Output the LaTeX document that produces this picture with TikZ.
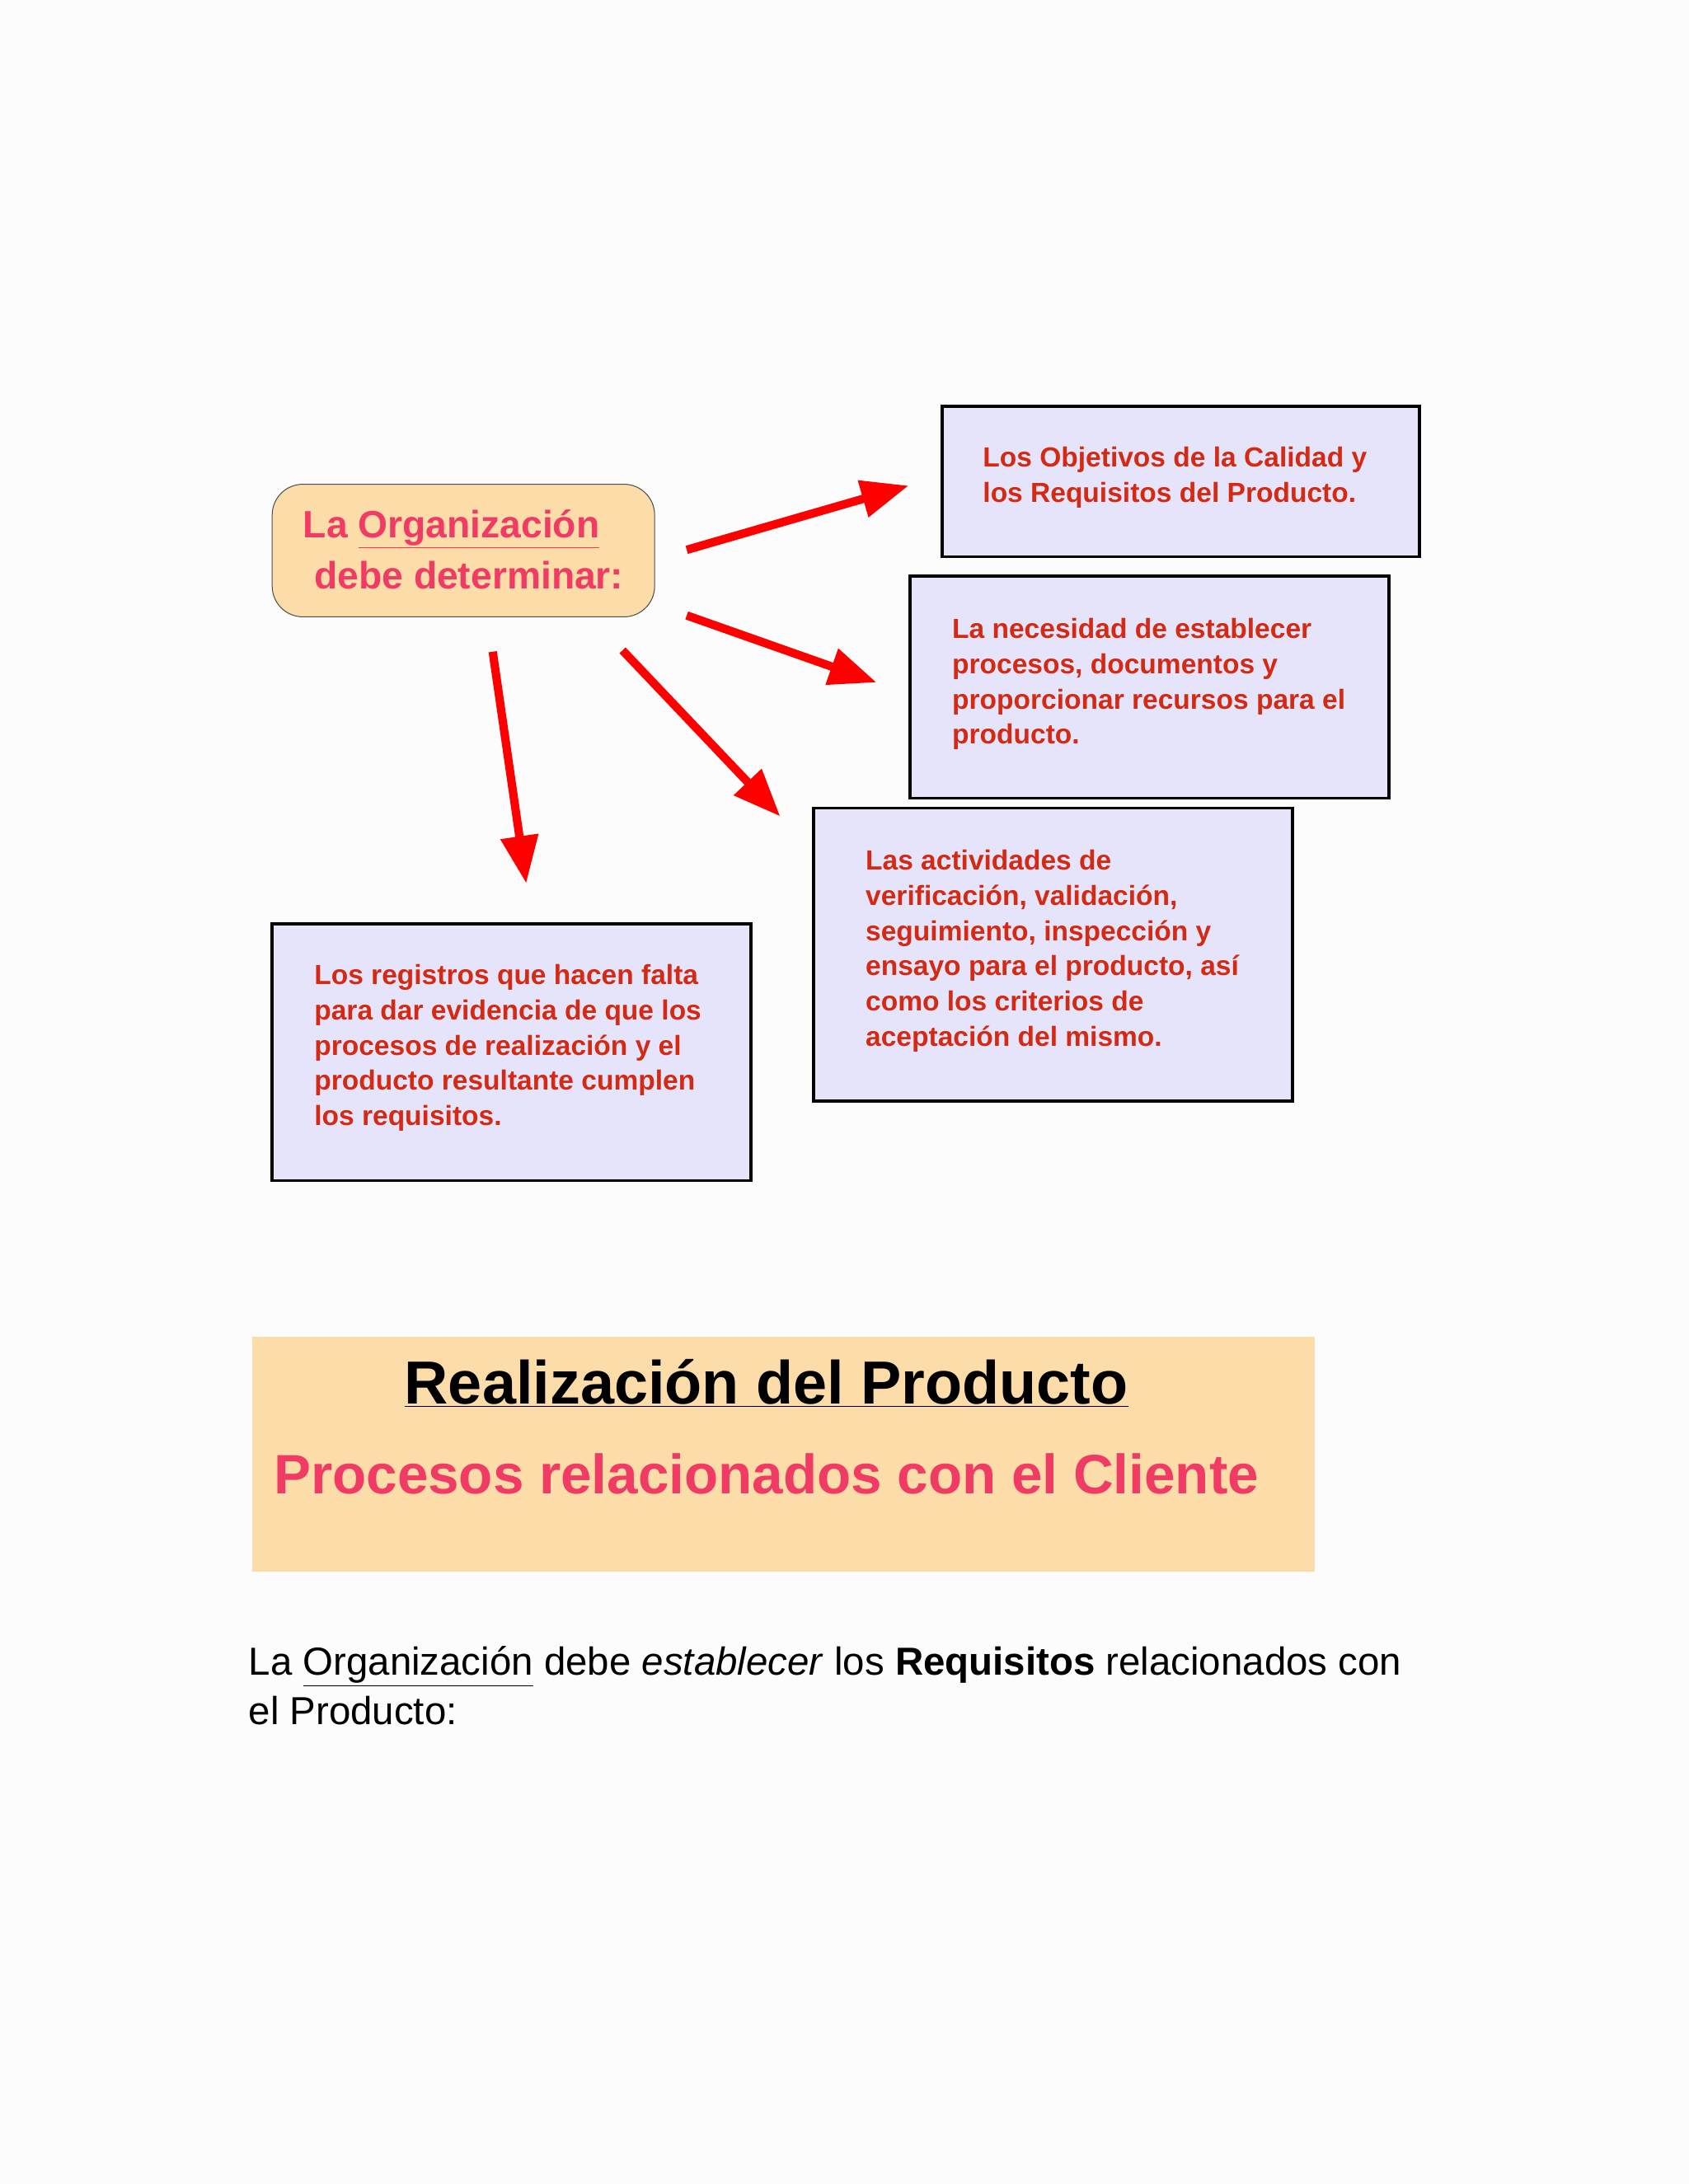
\documentclass[tikz,border=0pt]{standalone}
\usepackage{fontspec}
\setmainfont{Liberation Sans}
\usetikzlibrary{arrows.meta}
\definecolor{peach}{HTML}{FCDCA8}
\definecolor{lav}{HTML}{E6E4FA}
\definecolor{txtred}{HTML}{D42A14}
\definecolor{pink}{HTML}{F03C64}
\tikzset{
 infobox/.style={draw=black,line width=2.2pt,fill=lav},
 infotext/.style={anchor=north west,align=left,text=txtred,font=\bfseries\fontsize{19.8}{25.2}\selectfont,inner sep=0pt},
 redarrow/.style={draw=red,line width=6pt,-{Triangle[length=34pt,width=26pt]}},
}
\begin{document}
\begin{tikzpicture}[x=1pt,y=-1pt]
\useasboundingbox (0,0) rectangle (1210,1565);
\fill[white!98!gray] (0,0) rectangle (1210,1565);
% organisation node
\draw[fill=peach,draw=black!70,line width=0.6pt,rounded corners=22pt] (195,347) rectangle (469,442);
\node[anchor=west,text=pink,font=\bfseries\fontsize{27.3}{32}\selectfont,inner sep=0pt] (org1) at (217,379) {La \underline{Organización}};
\node[anchor=west,text=pink,font=\bfseries\fontsize{27.3}{32}\selectfont,inner sep=0pt] (org2) at (225,412) {debe determinar:};
% boxes
\draw[infobox] (675,291) rectangle (1017,399);
\node[infotext] (t1) at (704,320) {Los Objetivos de la Calidad y\\los Requisitos del Producto.};
\draw[infobox] (652,413) rectangle (995,572);
\node[infotext] (t2) at (682,443) {La necesidad de establecer\\procesos, documentos y\\proporcionar recursos para el\\producto.};
\draw[infobox] (583,579) rectangle (926,789);
\node[infotext] (t3) at (620,609) {Las actividades de\\verificación, validación,\\seguimiento, inspección y\\ensayo para el producto, así\\como los criterios de\\aceptación del mismo.};
\draw[infobox] (195,662) rectangle (538,846);
\node[infotext] (t4) at (225,691) {Los registros que hacen falta\\para dar evidencia de que los\\procesos de realización y el\\producto resultante cumplen\\los requisitos.};
% arrows
\coordinate (a1s) at (492,394); \coordinate (a1e) at (651,348);
\coordinate (a2s) at (492,441); \coordinate (a2e) at (628,489);
\coordinate (a3s) at (446,466); \coordinate (a3e) at (559,585);
\coordinate (a4s) at (353,467); \coordinate (a4e) at (377,633);
\draw[redarrow] (a1s) -- (a1e);
\draw[redarrow] (a2s) -- (a2e);
\draw[redarrow] (a3s) -- (a3e);
\draw[redarrow] (a4s) -- (a4e);
% banner
\fill[peach] (181,958) rectangle (942,1126);
\node[font=\bfseries\fontsize{43.6}{48}\selectfont,inner sep=0pt] (title) at (549,991) {\underline{Realización del Producto}};
\node[anchor=west,text=pink,font=\bfseries\fontsize{39.8}{46}\selectfont,inner sep=0pt] (sub) at (196,1056) {Procesos relacionados con el Cliente};
% bottom text
\node[anchor=west,font=\fontsize{28}{32}\selectfont,inner sep=0pt] (b1) at (178,1194) {La \underline{Organización} debe \textit{establecer} los \textbf{Requisitos} relacionados con};
\node[anchor=west,font=\fontsize{28}{32}\selectfont,inner sep=0pt] (b2) at (178,1226) {el Producto:};
\end{tikzpicture}
\end{document}
